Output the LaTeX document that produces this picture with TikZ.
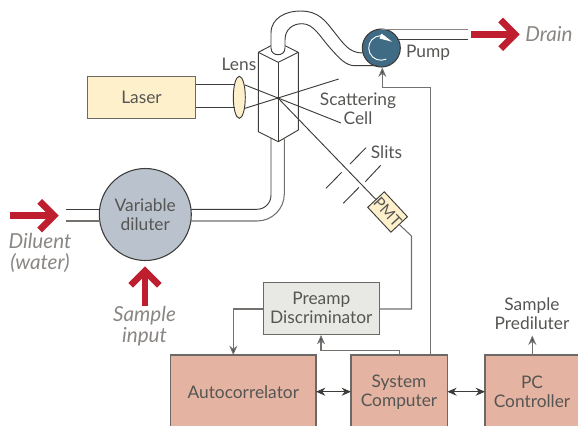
\documentclass[tikz,border=0pt]{standalone}
\usepackage{fontspec}
\setmainfont{Lato}
\usetikzlibrary{arrows.meta, shapes.geometric}
\definecolor{inkgray}{HTML}{555553}
\definecolor{softgray}{HTML}{8A8684}
\definecolor{wirecol}{HTML}{3C3C3A}
\definecolor{drainred}{HTML}{BE1E2D}
\definecolor{cream}{HTML}{FDF0CB}
\definecolor{salmon}{HTML}{E5B3A1}
\definecolor{paleg}{HTML}{E8E8E4}
\definecolor{diluterblue}{HTML}{BAC3CD}
\definecolor{pumpblue}{HTML}{3F6B85}
\tikzset{
	wire/.style={draw=wirecol, line width=0.7pt},
	sigline/.style={draw=softgray!70!wirecol, line width=0.8pt},
	sigarrow/.style={sigline, -{Stealth[length=7pt,width=6pt,fill=wirecol]}},
	twoway/.style={wire, {Stealth[length=7pt,width=6pt]}-{Stealth[length=7pt,width=6pt]}},
	flow/.style={draw=drainred, line width=5pt},
	txt/.style={text=inkgray, font=\fontsize{13}{14.25}\selectfont, align=center, inner sep=0pt},
	ital/.style={text=softgray, font=\fontsize{15.5}{15.75}\selectfont\itshape, align=center, inner sep=0pt},
	blockbox/.style={draw=softgray!60!wirecol, line width=0.9pt, text=inkgray, font=\fontsize{13}{14.25}\selectfont, align=center, inner sep=0pt, minimum width=#1},
	lowerbox/.style={fill=salmon, draw=softgray!60!wirecol, line width=0.9pt},
}
\begin{document}
\begin{tikzpicture}[x=0.75pt, y=-0.75pt]
	\useasboundingbox (0, 0) rectangle (578, 426);
	% inlet and outlet tubes
	\coordinate (diluentA) at (66, 209.3);
	\coordinate (diluentB) at (66, 221);
	\coordinate (cellA) at (271, 138);
	\coordinate (cellB) at (284.3, 139);
	\coordinate (drainA) at (468, 29.3);
	\coordinate (drainB) at (468, 39.3);
	% blocks
	\node[circle, draw=wirecol, line width=0.8pt, fill=diluterblue, minimum size=69pt, inner sep=0pt, text=inkgray, font=\fontsize{13}{14.25}\selectfont, align=center] (diluter) at (145.3, 214.5) {Variable\\diluter};
	\node[circle, draw=wirecol, line width=0.8pt, fill=pumpblue, minimum size=28.5pt, inner sep=0pt] (pump) at (381.3, 48) {};
	\node[blockbox=81pt, fill=cream, minimum height=31pt] (laser) at (141.5, 97.5) {Laser};
	\node[blockbox=87pt, fill=paleg, minimum height=39pt] (preamp) at (321.3, 308.3) {Preamp\\Discriminator};
	\path[lowerbox] (170.7, 426) -- (170.7, 355) -- (316, 355) -- (316, 426);
	\path[lowerbox] (351, 426) -- (351, 355) -- (447.3, 355) -- (447.3, 426);
	\fill[salmon] (485, 355) rectangle (578, 426);
	\draw[lowerbox, fill=none] (485, 426) -- (485, 355) -- (578, 355);
	\node[txt] (auto) at (243.3, 391.7) {Autocorrelator};
	\node[txt] (system) at (399, 391.7) {System\\Computer};
	\node[txt] (pc) at (532, 391.7) {PC\\Controller};
	\coordinate (autotop) at (233.3, 355);
	\coordinate (systopA) at (399.3, 355);
	\coordinate (systopB) at (430.7, 355);
	\coordinate (pctop) at (532.3, 355);
	\coordinate (autoright) at (316, 391.7);
	\coordinate (sysleft) at (351, 391.7);
	\coordinate (sysright) at (447.3, 391.7);
	\coordinate (pcleft) at (485, 391.7);
	% tube into cell from the diluter
	\draw[wire] (diluentA) -- (99.8, 209.3);
	\draw[sigline] (diluentB) -- (99.8, 221);
	\draw[wire] (191, 209.3) -- (256.7, 209.3) .. controls (265, 209.3) and (271, 203) .. (271, 195) -- (cellA);
	\draw[sigline] (190.5, 221) -- (257, 221) .. controls (272, 221) and (284.3, 209) .. (284.3, 194) -- (cellB);
	% cell
	\coordinate (cellL) at (258.3, 52.3);
	\coordinate (cellF) at (278.3, 62.3);
	\coordinate (cellR) at (298.3, 52.3);
	\coordinate (cellLb) at (258.3, 131.7);
	\coordinate (cellFb) at (278.3, 141.7);
	\coordinate (cellRb) at (298.3, 130);
	\coordinate (focus) at (278, 98);
	\draw[wire] (cellL) -- (cellF) -- (cellR) -- (285, 45.7);
	\draw[wire] (cellL) -- (271, 45.7);
	\draw[wire] (cellL) -- (cellLb) -- (cellFb) -- (cellRb) -- (cellR);
	\draw[wire] (cellF) -- (cellFb);
	% tube from cell to pump
	\draw[wire] (271, 48) -- (271, 33) .. controls (271, 18) and (286, 11) .. (300, 11) .. controls (320, 11) and (326, 22) .. (335, 33) .. controls (343, 43) and (349, 53) .. (362.5, 53);
	\draw[wire] (285, 48) -- (285, 40) .. controls (285, 29) and (293, 23.7) .. (302, 23.7) .. controls (314, 23.7) and (320, 37) .. (331, 49) .. controls (340, 59) and (346, 65.7) .. (355, 65.7) -- (377, 65.7);
	\draw[wire] (271, 48) .. controls (271, 57) and (285, 57) .. (285, 48);
	\draw[wire, draw=softgray] (381, 29.3) -- (drainA);
	\draw[wire] (397, 39.3) -- (drainB);
	% pump arrow
	\draw[white, line width=0.7pt] (386.2, 59.1) arc (65:290:12.3);
	\fill[white] (392, 41.7) -- (381.5, 33.5) -- (379.5, 38.5) -- cycle;
	% beams
	\node[ellipse, draw=wirecol, line width=0.7pt, fill=cream, minimum width=9pt, minimum height=31.5pt, inner sep=0pt] (lens) at (239.3, 97.3) {};
	\draw[wire] (195.7, 84.3) -- (235, 84.3);
	\draw[wire] (195.7, 107.3) -- (235, 107.3);
	\coordinate (scatterA) at (341, 123);
	\coordinate (scatterB) at (338.7, 79);
	\coordinate (slitAa) at (366, 147.7);
	\coordinate (slitAb) at (350, 164);
	\coordinate (slitBa) at (341.7, 172.3);
	\coordinate (slitBb) at (326, 188.3);
	\coordinate (slitCa) at (380.7, 165.3);
	\coordinate (slitCb) at (365.3, 181.7);
	\coordinate (slitDa) at (359, 187.3);
	\coordinate (slitDb) at (343.3, 203.3);
	\draw[wire] (245, 85) -- (focus) -- (scatterA);
	\draw[wire] (245, 108.3) -- (focus) -- (scatterB);
	\draw[wire] (slitAa) -- (slitAb);
	\draw[wire] (slitBa) -- (slitBb);
	\draw[wire] (slitCa) -- (slitCb);
	\draw[wire] (slitDa) -- (slitDb);
	\fill[wirecol] (focus) circle (1.1pt);
	% photomultiplier
	\node[draw=wirecol, line width=0.7pt, fill=cream, rotate=-47, minimum width=25.5pt, minimum height=17pt, inner sep=0pt, text=inkgray, font=\fontsize{11.5}{12}\selectfont] (pmt) at (387.6, 212) {PMT};
	\draw[wire] (focus) -- (pmt.west);
	\draw[sigline] (pmt.east) -- (411.5, 236) -- (411.5, 309) -- (379.3, 309);
	% signal lines
	\draw[sigarrow] (263.3, 309) -- (233.3, 309) -- (autotop);
	\draw[sigarrow] (systopA) -- (399.3, 350.7) -- (321, 350.7) -- (321, 335);
	\draw[sigarrow] (systopB) -- (430.7, 87.3) -- (382.3, 87.3) -- (382.3, 67.5);
	\draw[twoway] (autoright) -- (sysleft);
	\draw[twoway] (sysright) -- (pcleft);
	\draw[sigarrow] (pctop) -- (532.3, 335.5);
	% red flow arrows
	\draw[flow] (471, 34.3) -- (514, 34.3);
	\draw[flow] (500.7, 20) -- (515, 34.3) -- (500.7, 48.6);
	\draw[flow] (10, 215.7) -- (53, 215.7);
	\draw[flow] (39.7, 201.4) -- (54, 215.7) -- (39.7, 230);
	\draw[flow] (145, 305.7) -- (145, 273);
	\draw[flow] (130.7, 285.3) -- (145, 271) -- (159.3, 285.3);
	% labels
	\node[txt] (lenstext) at (239, 64) {Lens};
	\node[txt] (pumptext) at (428, 53) {Pump};
	\node[txt] (celltext) at (358, 109) {Scattering\\Cell};
	\node[txt] (slitstext) at (386.5, 152) {Slits};
	\node[txt] (prediluter) at (532, 314) {Sample\\Prediluter};
	\node[ital] (draintext) at (549, 34) {Drain};
	\node[ital] (diluenttext) at (40, 252.5) {Diluent\\(water)};
	\node[ital] (sampletext) at (144.5, 326.5) {Sample\\input};
\end{tikzpicture}
\end{document}
